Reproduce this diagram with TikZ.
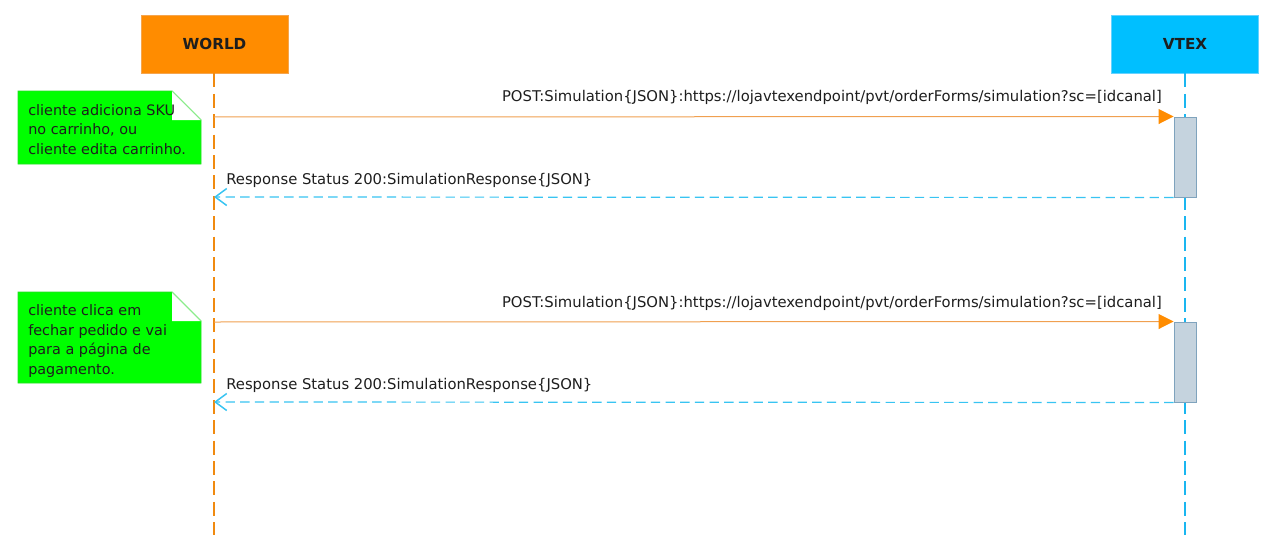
\documentclass[tikz,border=0pt]{standalone}
\usepackage{fontspec}
\setmainfont{DejaVu Sans}
\usetikzlibrary{arrows.meta}
\definecolor{worldfill}{HTML}{FF8C00}
\definecolor{worldedge}{HTML}{F5A54E}
\definecolor{vtexfill}{HTML}{00BFFF}
\definecolor{vtexedge}{HTML}{66D2FF}
\definecolor{worldlife}{HTML}{F08A10}
\definecolor{vtexlife}{HTML}{1AB6F0}
\definecolor{msgline}{HTML}{F0A050}
\definecolor{msgtip}{HTML}{FF8C00}
\definecolor{retline}{HTML}{38C4F2}
\definecolor{actfill}{HTML}{C5D3DE}
\definecolor{actedge}{HTML}{7FA3BD}
\definecolor{notefill}{HTML}{00FF00}
\definecolor{noteedge}{HTML}{22DD22}
\definecolor{notefold}{HTML}{8CEB8C}
\definecolor{txt}{HTML}{1E1E1E}
\def\px{0.75pt}
\tikzset{
  actor/.style={rectangle, minimum width=147*\px, minimum height=58*\px, inner sep=0pt,
    font=\fontsize{11.4}{13}\selectfont\bfseries, text=txt, line width=0.6pt},
  lifeline/.style={line width=1pt, dash pattern=on 10.5pt off 4.8pt},
  actbox/.style={rectangle, fill=actfill, draw=actedge, line width=0.75pt,
    minimum width=22*\px, minimum height=80*\px, inner sep=0pt},
  msg/.style={draw=msgline, line width=0.75pt,
    -{Triangle[length=15*\px, width=15*\px, fill=msgtip, color=msgtip]}},
  ret/.style={draw=retline, line width=0.9pt, dash pattern=on 7pt off 4pt,
    -{Straight Barb[length=11.5*\px, width=17*\px, line width=1.1pt]}},
  lbl/.style={font=\fontsize{11.1}{13}\selectfont, text=txt, inner sep=0pt},
  notetext/.style={font=\fontsize{10.8}{14.6}\selectfont, text=txt, align=left, inner sep=0pt, anchor=north west},
  notebg/.style={fill=notefill, draw=noteedge, line width=0.6pt},
}
\begin{document}
\begin{tikzpicture}[x=0.75pt, y=-0.75pt]
\useasboundingbox[fill=white] (0,0) rectangle (1277,535);

% actors
\node[actor, fill=worldfill, draw=worldedge] (world) at (214.5,44) {WORLD};
\node[actor, fill=vtexfill, draw=vtexedge] (vtex) at (1185,44) {VTEX};

% lifelines
\coordinate (wend) at (214,535);
\coordinate (vend) at (1185,535);
\draw[lifeline, draw=worldlife] (world.south -| wend) -- (wend);
\draw[lifeline, draw=vtexlife] (vtex.south -| vend) -- (vend);

% activations
\node[actbox] (act1) at (1185,157) {};
\node[actbox] (act2) at (1185,362) {};

% lifeline points
\coordinate (w1) at (214,117);
\coordinate (w2) at (214,197);
\coordinate (w3) at (214,322);
\coordinate (w4) at (214,402);

% messages
\draw[msg] (w1) -- (act1.north west);
\draw[ret] (act1.south west) -- (w2);
\draw[msg] (w3) -- (act2.north west);
\draw[ret] (act2.south west) -- (w4);

% labels
\node[lbl, anchor=base east] (l1) at (1162,102) {POST:Simulation\{JSON\}:https://lojavtexendpoint/pvt/orderForms/simulation?sc=[idcanal]};
\node[lbl, anchor=base west] (l2) at (226,184) {Response Status 200:SimulationResponse\{JSON\}};
\node[lbl, anchor=base east] (l3) at (1162,307) {POST:Simulation\{JSON\}:https://lojavtexendpoint/pvt/orderForms/simulation?sc=[idcanal]};
\node[lbl, anchor=base west] (l4) at (226,389) {Response Status 200:SimulationResponse\{JSON\}};

% note 1
\path[notebg] (18,91) -- (172,91) -- (201,120) -- (201,164) -- (18,164) -- cycle;
\fill[white] (172,91.5) -- (172,120) -- (200.5,120) -- cycle;
\draw[notefold, line width=0.6pt] (172,91) -- (201,120);
\node[notetext] (n1) at (28,104) {cliente adiciona SKU\\no carrinho, ou\\cliente edita carrinho.};

% note 2
\path[notebg] (18,292) -- (172,292) -- (201,321) -- (201,383) -- (18,383) -- cycle;
\fill[white] (172,292.5) -- (172,321) -- (200.5,321) -- cycle;
\draw[notefold, line width=0.6pt] (172,292) -- (201,321);
\node[notetext] (n2) at (28,304.5) {cliente clica em\\fechar pedido e vai\\para a página de\\pagamento.};
\end{tikzpicture}
\end{document}
